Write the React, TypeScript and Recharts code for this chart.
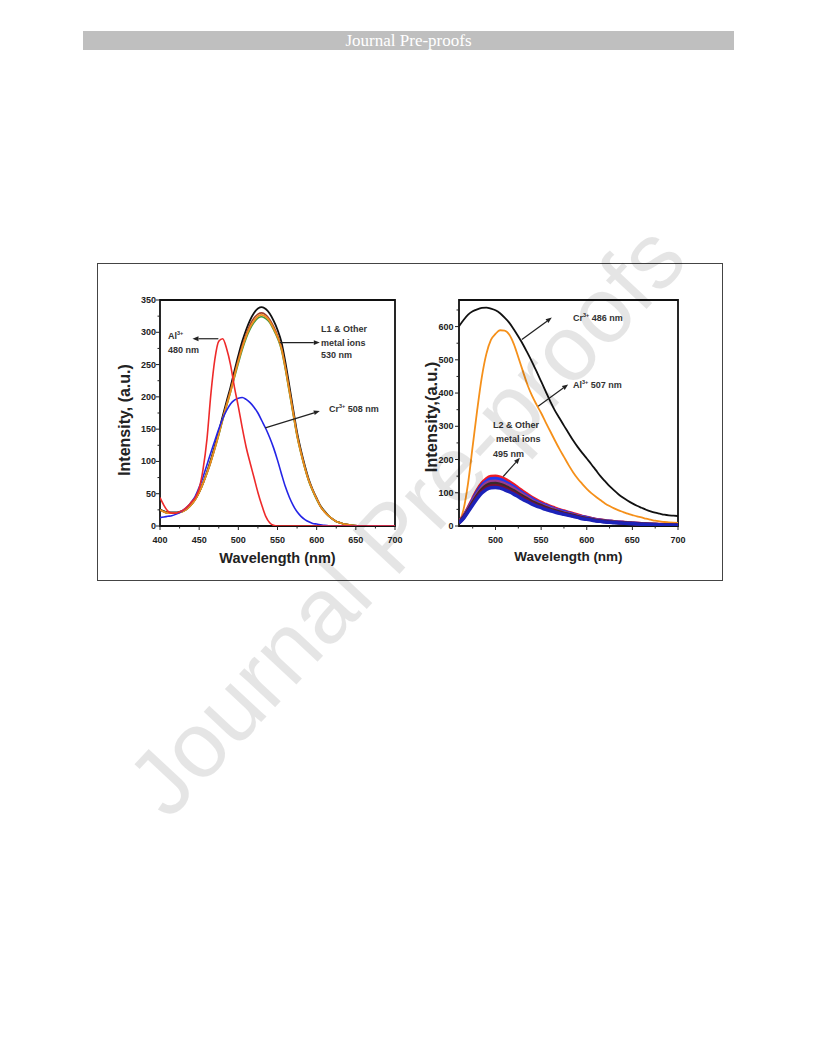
import React from 'react'
import { LineChart, Line, XAxis, YAxis, ReferenceArea, ReferenceLine } from 'recharts'

// ---- left panel: L1 + metal ions (emission, nm) ----
const wl1 = [400, 405, 410, 415, 420, 425, 430, 435, 440, 445, 450, 455, 460, 465, 470, 475, 480, 485, 490, 495, 500, 505, 510, 515, 520, 525, 530, 535, 540, 545, 550, 555, 560, 565, 570, 575, 580, 585, 590, 595, 600, 605, 610, 615, 620, 625, 630, 635, 640, 645, 650, 655, 660, 680, 700]
const l1Black = [26, 23, 21, 21, 21, 22, 24, 28, 34, 42, 53, 67, 84, 103, 124, 146, 170, 193, 215, 240, 264, 286, 304, 319, 330, 337, 339, 336, 329, 318, 304, 285, 254, 218, 181, 145, 117, 93, 72, 56, 43, 31, 23, 16, 11, 7, 5, 3, 2, 1, 0.5, 0, 0, 0, 0]
const l1Brown = [25, 22, 20, 20, 20, 21, 23, 27, 33, 41, 52, 66, 82, 100, 121, 143, 166, 189, 211, 235, 258, 279, 297, 312, 322, 328, 330, 327, 320, 309, 295, 277, 247, 212, 176, 141, 114, 90, 70, 55, 42, 30, 22, 16, 11, 7, 5, 3, 2, 1, 0.5, 0, 0, 0, 0]
const l1Green = [25, 22, 20, 20, 20, 21, 23, 27, 33, 41, 52, 66, 82, 100, 120, 141, 164, 186, 207, 230, 252, 273, 291, 305, 315, 322, 324, 321, 315, 304, 291, 273, 243, 208, 173, 139, 112, 89, 69, 54, 41, 30, 22, 16, 11, 7, 5, 3, 2, 1, 0.5, 0, 0, 0, 0]
const l1Orange = [25, 22, 20, 20, 20, 21, 23, 27, 33, 41, 52, 66, 82, 100, 120, 142, 165, 187, 208, 232, 255, 276, 294, 308, 318, 325, 327, 324, 317, 306, 293, 275, 245, 210, 175, 140, 113, 90, 70, 55, 42, 30, 22, 16, 11, 7, 5, 3, 2, 1, 0.5, 0, 0, 0, 0]
const l1Al = [44, 32, 23, 20, 20, 22, 25, 30, 37, 44, 58, 88, 135, 205, 258, 286, 290, 275, 250, 215, 185, 152, 122, 98, 75, 52, 32, 15, 5, 1, 0, 0, 0, 0, 0, 0, 0, 0, 0, 0, 0, 0, 0, 0, 0, 0, 0, 0, 0, 0, 0, 0, 0, 0, 0]
const l1Cr = [13, 14, 15, 16, 18, 21, 25, 30, 37, 46, 60, 76, 95, 114, 132, 150, 166, 179, 189, 195, 198, 199, 196, 191, 184, 175, 163, 151, 137, 121, 102, 81, 61, 45, 32, 22, 15, 10, 6.5, 4, 3, 2, 1, 0.5, 0, 0, 0, 0, 0, 0, 0, 0, 0, 0, 0]

// ---- right panel: L2 + metal ions ----
const wl2 = [460, 465, 470, 475, 480, 485, 490, 495, 500, 505, 510, 515, 520, 525, 530, 535, 540, 545, 550, 555, 560, 565, 570, 575, 580, 585, 590, 595, 600, 605, 610, 615, 620, 625, 630, 635, 640, 645, 650, 655, 660, 665, 670, 675, 680, 685, 690, 695, 700]
const l2Cr = [601, 620, 636, 646, 652, 656, 657, 654, 649, 640, 627, 612, 592, 570, 547, 521, 494, 465, 435, 405, 375, 348, 325, 302, 280, 258, 238, 220, 203, 186, 168, 150, 135, 120, 107, 95, 85, 76, 68, 61, 55, 49, 44, 40, 37, 34, 32, 31, 30]
const l2Al = [10, 50, 130, 240, 350, 448, 518, 560, 578, 589, 588, 576, 548, 508, 466, 425, 392, 365, 340, 312, 285, 258, 232, 208, 184, 162, 143, 127, 112, 99, 88, 78, 68, 60, 53, 47, 42, 37, 33, 29, 26, 22, 19, 16, 14, 12, 11, 10, 9]
const l2Red = [12, 30, 55, 82, 108, 128, 142, 149, 150, 147, 141, 133, 124, 114, 104, 95, 86, 78, 71, 65, 59, 54, 49, 45, 41, 37, 33, 29, 26, 23, 20, 18, 16, 14.5, 13, 12, 11, 10, 9, 8, 7, 6, 5.5, 5, 4.5, 4, 3.5, 3, 2.5]
const l2Blue = [11, 28, 52, 78, 103, 122, 135, 142, 143, 140, 134, 126, 118, 108, 99, 90, 82, 74, 67, 62, 56, 51, 47, 43, 39, 35, 31, 28, 25, 22, 19, 17, 15, 14, 12.5, 11.5, 10.5, 9.5, 8.5, 7.5, 6.5, 5.5, 5, 4.5, 4, 3.8, 3.3, 2.8, 2.4]
const l2Purple = [11, 27, 50, 74, 97, 115, 128, 134, 135, 132, 127, 120, 112, 103, 94, 86, 77, 70, 64, 58, 53, 49, 44, 40, 37, 33, 30, 26, 23, 21, 18, 16, 14, 13, 12, 11, 10, 9, 8, 7, 6.3, 5.4, 5, 4.5, 4, 3.6, 3.2, 2.7, 2.3]
const l2Dark = [10, 26, 47, 70, 92, 109, 121, 127, 128, 125, 120, 113, 106, 97, 89, 81, 73, 67, 61, 55, 50, 46, 42, 38, 35, 32, 28, 25, 22, 20, 17, 15, 14, 12.4, 11, 10, 9.4, 8.5, 7.7, 6.8, 6, 5.1, 4.7, 4.3, 3.8, 3.4, 3, 2.6, 2.1]
const l2Maroon = [10, 24, 45, 67, 88, 104, 115, 121, 122, 120, 115, 108, 101, 93, 85, 77, 70, 63, 58, 53, 48, 44, 40, 37, 33, 30, 27, 24, 21, 19, 16, 15, 13, 11.8, 10.6, 9.8, 8.9, 8.1, 7.3, 6.5, 5.7, 4.9, 4.5, 4.1, 3.7, 3.3, 2.8, 2.4, 2]
const l2Navy = [9, 23, 43, 63, 83, 99, 110, 115, 116, 114, 109, 103, 96, 88, 80, 73, 66, 60, 55, 50, 46, 42, 38, 35, 32, 29, 26, 22, 20, 18, 15, 14, 12, 11.2, 10, 9.3, 8.5, 7.7, 7, 6.2, 5.4, 4.6, 4.3, 3.9, 3.5, 3.1, 2.7, 2.3, 1.9]

const xTicks1 = [400, 425, 450, 475, 500, 525, 550, 575, 600, 625, 650, 675, 700]
const yTicks1 = [0, 25, 50, 75, 100, 125, 150, 175, 200, 225, 250, 275, 300, 325, 350]
const xTicks2 = [475, 500, 525, 550, 575, 600, 625, 650, 675, 700]
const yTicks2 = [0, 50, 100, 150, 200, 250, 300, 350, 400, 450, 500, 550, 600, 650]

const leftData = wl1.map((w, i) => ({
  w, black: l1Black[i], brown: l1Brown[i], green: l1Green[i], orange: l1Orange[i], al: l1Al[i], cr: l1Cr[i],
}))
const rightData = wl2.map((w, i) => ({
  w, cr: l2Cr[i], al: l2Al[i], red: l2Red[i], blue: l2Blue[i], purple: l2Purple[i],
  dark: l2Dark[i], maroon: l2Maroon[i], navy: l2Navy[i],
}))

const INK = '#222'
const FONT = '"Liberation Sans", Arial, sans-serif'

function XTick(props: any) {
  const { x, y, payload, step } = props
  const major = payload.value % step === 0
  return (
    <g>
      <line x1={x} y1={y} x2={x} y2={y + (major ? 4 : 2.5)} stroke={INK} strokeWidth={1} />
      {major && (
        <text x={x} y={y + 14} textAnchor="middle" dominantBaseline="central"
          fontSize={9} fontWeight="bold" fontFamily={FONT} fill={INK}>{payload.value}</text>
      )}
    </g>
  )
}

function YTick(props: any) {
  const { x, y, payload, step, gap } = props
  const major = payload.value % step === 0
  return (
    <g>
      <line x1={x - (major ? 4 : 2.5)} y1={y} x2={x} y2={y} stroke={INK} strokeWidth={1} />
      {major && (
        <text x={x - gap} y={y} textAnchor="end" dominantBaseline="central"
          fontSize={9} fontWeight="bold" fontFamily={FONT} fill={INK}>{payload.value}</text>
      )}
    </g>
  )
}

function Arrow(props: any) {
  const { x1, y1, x2, y2 } = props
  const a = Math.atan2(y2 - y1, x2 - x1)
  const L = 6, W = 2.4
  const bx = x2 - L * Math.cos(a)
  const by = y2 - L * Math.sin(a)
  const pts = `${x2},${y2} ${bx - W * Math.sin(a)},${by + W * Math.cos(a)} ${bx + W * Math.sin(a)},${by - W * Math.cos(a)}`
  return (
    <g>
      <line x1={x1} y1={y1} x2={bx} y2={by} stroke={INK} strokeWidth={1.2} />
      <polygon points={pts} fill={INK} />
    </g>
  )
}

function Note({ x, y, children, size = 9 }: any) {
  return (
    <div style={{ position: 'absolute', left: x, top: y - 6, height: 12, lineHeight: '12px', fontSize: size,
      fontWeight: 'bold', fontFamily: FONT, color: '#333', whiteSpace: 'nowrap' }}>{children}</div>
  )
}

const Sup = ({ children }: any) => (
  <span style={{ fontSize: 5.5, position: 'relative', top: -4, lineHeight: 0 }}>{children}</span>
)

function AxisTitle({ x, y, size, rotate, children }: any) {
  return (
    <div style={{ position: 'absolute', left: x, top: y, transform: `translate(-50%, -50%)${rotate ? ' rotate(-90deg)' : ''}`,
      fontSize: size, fontWeight: 'bold', fontFamily: FONT, color: '#222', whiteSpace: 'nowrap', lineHeight: 1 }}>{children}</div>
  )
}

export default function App() {
  return (
    <div style={{ position: 'absolute', left: 0, top: 0, width: 816, height: 1056, background: '#fff', overflow: 'hidden' }}>
      {/* header bar */}
      <div style={{ position: 'absolute', left: 83, top: 31, width: 651, height: 19, background: '#bfbfbf', color: '#fff',
        fontFamily: '"Liberation Serif", "Times New Roman", serif', fontSize: 17, lineHeight: '19px', textAlign: 'center' }}>
        Journal Pre-proofs
      </div>

      {/* figure frame */}
      <div style={{ position: 'absolute', left: 97, top: 263, width: 626, height: 318, boxSizing: 'border-box', border: '1px solid #444' }} />

      {/* left chart */}
      <div style={{ position: 'absolute', left: 100, top: 290 }}>
        <LineChart width={305} height={266} data={leftData} margin={{ top: 10, right: 10, bottom: 0, left: 0 }}>
          <XAxis dataKey="w" type="number" domain={[400, 700]} ticks={xTicks1} allowDataOverflow
            axisLine={false} tickLine={false} tickSize={0} tickMargin={0} height={30} interval={0}
            tick={(p: any) => <XTick {...p} step={50} />} />
          <YAxis type="number" domain={[0, 350]} ticks={yTicks1} allowDataOverflow width={60}
            axisLine={false} tickLine={false} tickSize={0} tickMargin={0} interval={0}
            tick={(p: any) => <YTick {...p} step={50} gap={4} />} />
          <Line type="monotone" dataKey="black" stroke="#111" strokeWidth={1.8} dot={false} isAnimationActive={false} />
          <Line type="monotone" dataKey="brown" stroke="#a0402c" strokeWidth={1.6} dot={false} isAnimationActive={false} />
          <Line type="monotone" dataKey="green" stroke="#3c9a3c" strokeWidth={1.6} dot={false} isAnimationActive={false} />
          <Line type="monotone" dataKey="orange" stroke="#ee8c1e" strokeWidth={1.8} dot={false} isAnimationActive={false} />
          <Line type="monotone" dataKey="cr" stroke="#2424e6" strokeWidth={1.6} dot={false} isAnimationActive={false} />
          <Line type="monotone" dataKey="al" stroke="#ee2a2a" strokeWidth={1.6} dot={false} isAnimationActive={false} />
          <ReferenceLine segment={[{ x: 474.5, y: 290 }, { x: 441.5, y: 290 }]} shape={Arrow} ifOverflow="visible" />
          <ReferenceLine segment={[{ x: 552.8, y: 284 }, { x: 604, y: 284 }]} shape={Arrow} ifOverflow="visible" />
          <ReferenceLine segment={[{ x: 534.4, y: 152 }, { x: 604, y: 178 }]} shape={Arrow} ifOverflow="visible" />
          <ReferenceArea x1={400} x2={700} y1={0} y2={350} fill="none" stroke="#111" strokeWidth={1.8} ifOverflow="visible" />
        </LineChart>
      </div>

      {/* right chart */}
      <div style={{ position: 'absolute', left: 400, top: 290 }}>
        <LineChart width={288} height={266} data={rightData} margin={{ top: 10, right: 10, bottom: 0, left: 0 }}>
          <XAxis dataKey="w" type="number" domain={[460, 700]} ticks={xTicks2} allowDataOverflow
            axisLine={false} tickLine={false} tickSize={0} tickMargin={0} height={30} interval={0}
            tick={(p: any) => <XTick {...p} step={50} />} />
          <YAxis type="number" domain={[0, 680]} ticks={yTicks2} allowDataOverflow width={59}
            axisLine={false} tickLine={false} tickSize={0} tickMargin={0} interval={0}
            tick={(p: any) => <YTick {...p} step={100} gap={5.5} />} />
          <Line type="monotone" dataKey="cr" stroke="#111" strokeWidth={1.8} dot={false} isAnimationActive={false} />
          <Line type="monotone" dataKey="al" stroke="#f5901a" strokeWidth={1.8} dot={false} isAnimationActive={false} />
          <Line type="monotone" dataKey="red" stroke="#f01c24" strokeWidth={3.5} dot={false} isAnimationActive={false} />
          <Line type="monotone" dataKey="blue" stroke="#2238f0" strokeWidth={3.5} dot={false} isAnimationActive={false} />
          <Line type="monotone" dataKey="purple" stroke="#9a3c8c" strokeWidth={3.5} dot={false} isAnimationActive={false} />
          <Line type="monotone" dataKey="dark" stroke="#3a2a2a" strokeWidth={3.5} dot={false} isAnimationActive={false} />
          <Line type="monotone" dataKey="maroon" stroke="#7a1030" strokeWidth={3} dot={false} isAnimationActive={false} />
          <Line type="monotone" dataKey="navy" stroke="#1c22b8" strokeWidth={3.5} dot={false} isAnimationActive={false} />
          <ReferenceLine segment={[{ x: 528.9, y: 561 }, { x: 561.7, y: 627 }]} shape={Arrow} ifOverflow="visible" />
          <ReferenceLine segment={[{ x: 546.8, y: 360 }, { x: 579.6, y: 426 }]} shape={Arrow} ifOverflow="visible" />
          <ReferenceLine segment={[{ x: 508.5, y: 149 }, { x: 526.7, y: 205 }]} shape={Arrow} ifOverflow="visible" />
          <ReferenceArea x1={460} x2={700} y1={0} y2={680} fill="none" stroke="#111" strokeWidth={1.8} ifOverflow="visible" />
        </LineChart>
      </div>

      {/* axis titles */}
      <AxisTitle x={125} y={420} size={16} rotate>Intensity, (a.u.)</AxisTitle>
      <AxisTitle x={277.5} y={558} size={14.5}>Wavelength (nm)</AxisTitle>
      <AxisTitle x={431} y={417} size={16.5} rotate>Intensity,(a.u.)</AxisTitle>
      <AxisTitle x={568.5} y={557} size={13.5}>Wavelength (nm)</AxisTitle>

      {/* annotations, left */}
      <Note x={168} y={336}>Al<Sup>3+</Sup></Note>
      <Note x={168} y={350}>480 nm</Note>
      <Note x={321} y={329}>L1 &amp; Other</Note>
      <Note x={321} y={343}>metal ions</Note>
      <Note x={321} y={355}>530 nm</Note>
      <Note x={329} y={409}>Cr<Sup>3+</Sup> 508 nm</Note>

      {/* annotations, right */}
      <Note x={573} y={318}>Cr<Sup>3+</Sup> 486 nm</Note>
      <Note x={573} y={385}>Al<Sup>3+</Sup> 507 nm</Note>
      <Note x={493} y={425}>L2 &amp; Other</Note>
      <Note x={496} y={439}>metal ions</Note>
      <Note x={493} y={454}>495 nm</Note>

      {/* watermark */}
      <svg width={816} height={1056} style={{ position: 'absolute', left: 0, top: 0, pointerEvents: 'none' }}>
        <text x={406} y={520} textAnchor="middle" dominantBaseline="central" fontSize={93} fontFamily={FONT}
          fill="#000" fillOpacity={0.1} transform="rotate(-47 406 520)">Journal Pre-proofs</text>
      </svg>
    </div>
  )
}
